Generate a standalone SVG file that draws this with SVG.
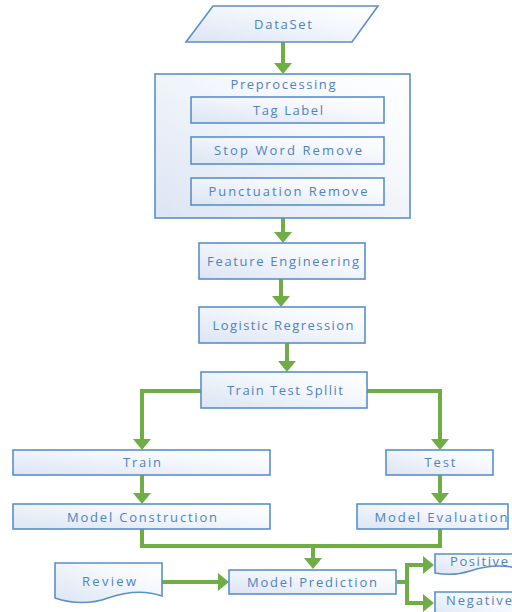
<svg xmlns="http://www.w3.org/2000/svg" width="512" height="612" viewBox="0 0 512 612">
<defs>
<linearGradient id="g" x1="0" y1="1" x2="1" y2="0">
<stop offset="0" stop-color="#dbe5f3"/>
<stop offset="0.6" stop-color="#f4f7fc"/>
<stop offset="1" stop-color="#ffffff"/>
</linearGradient>
<marker id="ah" viewBox="0 0 11 18" markerWidth="11" markerHeight="18" markerUnits="userSpaceOnUse" refX="5" refY="9" orient="auto">
<path d="M0,0 L11,9 L0,18 Z" fill="#70ad47"/>
</marker>
<style>
.box{fill:url(#g);stroke:#5b8fc9;stroke-width:1.6}
.t{font-family:"Open Sans","Liberation Sans",Arial,sans-serif;font-size:13px;fill:#4f82bf;text-anchor:middle}
.c{fill:none;stroke:#70ad47;stroke-width:4}
.a{marker-end:url(#ah)}
</style>
</defs>
<rect width="512" height="612" fill="#ffffff"/>

<g id="connectors">
<path class="c a" d="M283,42 V68"/>
<path class="c a" d="M283,218 V237"/>
<path class="c a" d="M281,279 V301"/>
<path class="c a" d="M287,343 V366"/>
<path class="c a" d="M201,391 H142 V444"/>
<path class="c a" d="M367,391 H440 V444"/>
<path class="c a" d="M142,475 V498"/>
<path class="c a" d="M440,475 V498"/>
<path class="c" d="M142,529 V546 H440 V529"/>
<path class="c a" d="M313,546 V563"/>
<path class="c a" d="M162,582 H223"/>
<path class="c a" d="M397,582 H407 V565 H428"/>
<path class="c a" d="M407,582 V603 H428"/>
</g>

<g id="dataset">
<polygon class="box" points="213,6 378,6 352,42 186,42"/>
<text class="t" x="283" y="29" textLength="58" lengthAdjust="spacing">DataSet</text>
</g>

<g id="preprocessing">
<rect class="box" x="155" y="74" width="255" height="144"/>
<text class="t" x="283" y="89" textLength="105" lengthAdjust="spacing">Preprocessing</text>
</g>
<g id="tag-label">
<rect class="box" x="191" y="97" width="193" height="26"/>
<text class="t" x="288" y="115" textLength="70" lengthAdjust="spacing">Tag Label</text>
</g>
<g id="stop-word-remove">
<rect class="box" x="191" y="137" width="193" height="27"/>
<text class="t" x="288" y="155" textLength="148" lengthAdjust="spacing">Stop Word Remove</text>
</g>
<g id="punctuation-remove">
<rect class="box" x="191" y="178" width="193" height="27"/>
<text class="t" x="288" y="196" textLength="159" lengthAdjust="spacing">Punctuation Remove</text>
</g>

<g id="feature-engineering">
<rect class="box" x="199" y="243" width="166" height="36"/>
<text class="t" x="283" y="266" textLength="152" lengthAdjust="spacing">Feature Engineering</text>
</g>
<g id="logistic-regression">
<rect class="box" x="199" y="307" width="166" height="36"/>
<text class="t" x="283" y="330" textLength="141" lengthAdjust="spacing">Logistic Regression</text>
</g>
<g id="train-test-split">
<rect class="box" x="201" y="372" width="166" height="36"/>
<text class="t" x="285" y="395" textLength="116" lengthAdjust="spacing">Train Test Spllit</text>
</g>

<g id="train">
<rect class="box" x="13" y="450" width="257" height="25"/>
<text class="t" x="142" y="467" textLength="38" lengthAdjust="spacing">Train</text>
</g>
<g id="test">
<rect class="box" x="386" y="450" width="107" height="25"/>
<text class="t" x="440" y="467" textLength="31" lengthAdjust="spacing">Test</text>
</g>
<g id="model-construction">
<rect class="box" x="13" y="504" width="257" height="25"/>
<text class="t" x="142" y="522" textLength="150" lengthAdjust="spacing">Model Construction</text>
</g>
<g id="model-evaluation">
<rect class="box" x="357" y="504" width="151" height="25"/>
<text class="t" x="441" y="522" textLength="133" lengthAdjust="spacing">Model Evaluation</text>
</g>

<g id="review">
<path class="box" d="M55,563 H162 V596 C145,590 125,592 108,598 C92,604 72,604 55,598 Z"/>
<text class="t" x="109" y="586" textLength="54" lengthAdjust="spacing">Review</text>
</g>
<g id="model-prediction">
<rect class="box" x="229" y="570" width="167" height="24"/>
<text class="t" x="312" y="587" textLength="130" lengthAdjust="spacing">Model Prediction</text>
</g>
<g id="positive">
<path class="box" d="M435,554 H516 V568 C500,564 485,566 470,571 C458,575 446,575 435,573 Z"/>
<text class="t" x="479" y="566" textLength="58" lengthAdjust="spacing">Positive</text>
</g>
<g id="negative">
<path class="box" d="M435,592 H516 V620 H435 Z"/>
<text class="t" x="479" y="605" textLength="66" lengthAdjust="spacing">Negative</text>
</g>
</svg>
